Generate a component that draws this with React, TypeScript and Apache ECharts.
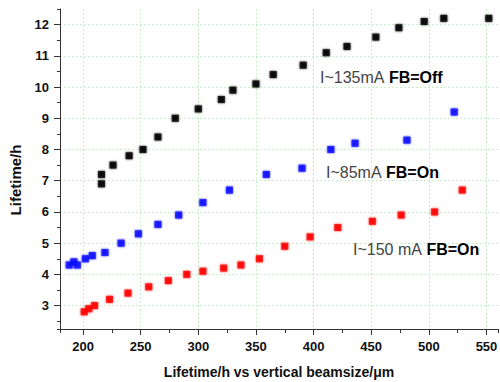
import React, { useEffect, useRef } from "react";
import * as echarts from "echarts";

const offX = [216, 216, 226, 240, 252, 265, 280, 300, 320, 330, 350, 365, 391, 411, 429, 454, 474, 496, 513, 552];
const offY = [6.9, 7.2, 7.5, 7.8, 8.0, 8.4, 9.0, 9.3, 9.6, 9.9, 10.1, 10.4, 10.7, 11.1, 11.3, 11.6, 11.9, 12.1, 12.2, 12.2];
const on85X = [188, 192, 195, 202, 208, 219, 233, 248, 265, 283, 304, 327, 359, 390, 415, 436, 481, 522];
const on85Y = [4.3, 4.4, 4.3, 4.5, 4.6, 4.7, 5.0, 5.3, 5.6, 5.9, 6.3, 6.7, 7.2, 7.4, 8.0, 8.2, 8.3, 9.2];
const on150X = [201, 205, 210, 223, 239, 257, 274, 290, 304, 322, 337, 353, 375, 397, 421, 451, 476, 505, 529];
const on150Y = [2.8, 2.9, 3.0, 3.2, 3.4, 3.6, 3.8, 4.0, 4.1, 4.2, 4.3, 4.5, 4.9, 5.2, 5.5, 5.7, 5.9, 6.0, 6.7];

const xTitle = "Lifetime/h vs vertical beamsize/\u03bcm";
const yTitle = "Lifetime/h";
const labels = [
  { cur: "I~135mA ", fb: "FB=Off", x: 320, y: 77 },
  { cur: "I~85mA ", fb: "FB=On", x: 326, y: 172 },
  { cur: "I~150 mA ", fb: "FB=On", x: 353, y: 249 },
];

const zip = (xs: number[], ys: number[]) => xs.map((x, i) => [x, ys[i]]);

export default function App() {
  const ref = useRef<HTMLDivElement>(null);
  useEffect(() => {
    const chart = echarts.init(ref.current!, null, { renderer: "svg" });
    const font = "Arial, 'Liberation Sans', sans-serif";
    const axisColor = "#333";
    const tickLabel = { color: "#111", fontWeight: "bold" as const, fontSize: 13, fontFamily: font };
    const mk = (name: string, xs: number[], ys: number[], color: string) => ({
      type: "scatter",
      name,
      data: zip(xs, ys),
      symbol: "rect",
      symbolSize: 7,
      itemStyle: { color, shadowColor: color, shadowBlur: 2 },
      xAxisIndex: 0,
      yAxisIndex: 0,
    });
    chart.setOption({
      animation: false,
      grid: { left: 60, right: 2, top: 9, bottom: 53, containLabel: false, outerBoundsMode: "none" },
      xAxis: [
        {
          type: "value",
          min: 180,
          max: 560,
          minInterval: 50,
          maxInterval: 50,
          position: "bottom",
          name: xTitle,
          nameLocation: "middle",
          nameGap: 36,
          nameTextStyle: { color: "#111", fontWeight: "bold", fontSize: 14, fontFamily: font },
          axisLine: { show: true, onZero: false, lineStyle: { color: axisColor, width: 1 } },
          axisTick: { show: true, inside: false, length: 6, lineStyle: { color: axisColor } },
          axisLabel: { ...tickLabel, margin: 11, showMinLabel: false, showMaxLabel: false },
          splitLine: {
            show: true,
            showMinLine: false,
            showMaxLine: false,
            lineStyle: { color: "#c4f2c4", type: [2, 2], width: 1 },
          },
        },
        {
          type: "value",
          min: 180,
          max: 560,
          minInterval: 25,
          maxInterval: 25,
          position: "bottom",
          axisLine: { show: false, onZero: false },
          axisTick: { show: true, inside: false, length: 4, lineStyle: { color: axisColor } },
          axisLabel: { show: false },
          splitLine: { show: false },
        },
      ],
      yAxis: [
        {
          type: "value",
          min: 2.25,
          max: 12.5,
          minInterval: 1,
          maxInterval: 1,
          position: "left",
          axisLine: { show: true, onZero: false, lineStyle: { color: axisColor, width: 1 } },
          axisTick: { show: true, inside: false, length: 6, lineStyle: { color: axisColor } },
          axisLabel: { ...tickLabel, margin: 11, showMinLabel: false, showMaxLabel: false },
          splitLine: {
            show: true,
            showMinLine: false,
            showMaxLine: false,
            lineStyle: { color: "#c4f2c4", type: [2, 2], width: 1 },
          },
        },
        {
          type: "value",
          min: 2.25,
          max: 12.5,
          minInterval: 0.5,
          maxInterval: 0.5,
          position: "left",
          axisLine: { show: false, onZero: false },
          axisTick: { show: true, inside: false, length: 3, lineStyle: { color: axisColor } },
          axisLabel: { show: false },
          splitLine: { show: false },
        },
      ],
      graphic: [
        {
          type: "text",
          x: 15,
          y: 180,
          z: 50,
          rotation: Math.PI / 2,
          style: {
            text: yTitle,
            fill: "#111",
            font: `bold 15px ${font}`,
            align: "center",
            verticalAlign: "middle",
          },
        },
        ...labels.map((l) => ({
          type: "text",
          x: l.x,
          y: l.y,
          z: 50,
          style: {
            text: `{a|${l.cur}}{b|${l.fb}}`,
            verticalAlign: "middle",
            align: "left",
            rich: {
              a: { fill: "#444", fontSize: 16, fontFamily: font },
              b: { fill: "#000", fontSize: 16, fontWeight: "bold", fontFamily: font },
            },
          },
        })),
      ],
      series: [
        mk("I~135mA FB=Off", offX, offY, "#000000"),
        mk("I~85mA FB=On", on85X, on85Y, "#0a0aff"),
        mk("I~150 mA FB=On", on150X, on150Y, "#ff0000"),
      ],
    });
    return () => chart.dispose();
  }, []);
  return (
    <div
      ref={ref}
      style={{ position: "fixed", left: 0, top: 0, width: 500, height: 382, background: "#fff" }}
    />
  );
}
